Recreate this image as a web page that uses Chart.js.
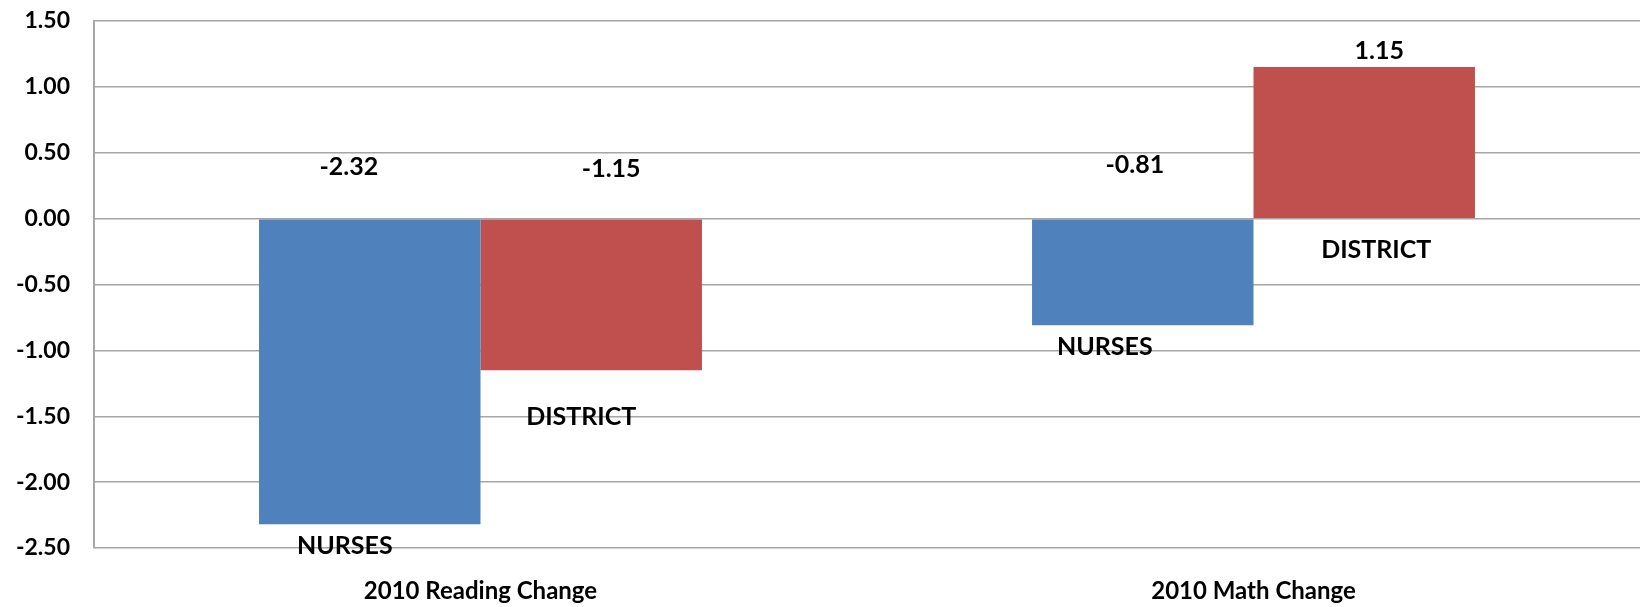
<!DOCTYPE html>
<html>
<head>
    <title>2010 Change</title>
    <script src="https://cdn.jsdelivr.net/npm/chart.js"></script>
    <style>
        html, body {
            margin: 0;
            padding: 0;
            background-color: #ffffff;
        }
        #wrap {
            position: relative;
            width: 1640px;
            height: 607px;
        }
    </style>
</head>
<body>
    <div id="wrap">
        <canvas id="myChart"></canvas>
    </div>
    <script>
        // chart data
        var categories = ['2010 Reading Change', '2010 Math Change'];
        var seriesNames = ['NURSES', 'DISTRICT'];
        var nursesValues = [-2.32, -0.81];
        var districtValues = [-1.15, 1.15];
        var yTicks = { min: -2.5, max: 1.5, step: 0.5 };

        // hand placed label nudges (px), [dataset][category] -> [valueDx, valueDy, nameDx, nameDy]
        var labelNudge = [
            [[-21, 0, -25, 0], [-8, -2, -38, 0]],
            [[20, 2, -10, 25], [15, 0, 12, 0]]
        ];

        var labelFont = 'bold 25px Lato';

        var barLabels = {
            id: 'barLabels',
            afterDatasetsDraw: function (chart) {
                var ctx = chart.ctx;
                var zeroY = chart.scales.y.getPixelForValue(0);
                ctx.save();
                ctx.font = labelFont;
                ctx.fillStyle = '#000';
                ctx.textAlign = 'center';
                ctx.textBaseline = 'middle';
                chart.data.datasets.forEach(function (ds, i) {
                    var meta = chart.getDatasetMeta(i);
                    meta.data.forEach(function (bar, j) {
                        var v = ds.data[j];
                        var n = labelNudge[i][j];
                        var vy = v < 0 ? zeroY - 52 : bar.y - 16;
                        var ny = v < 0 ? bar.y + 22 : zeroY + 31;
                        ctx.fillText(v.toFixed(2), bar.x + n[0], vy + n[1]);
                        ctx.fillText(ds.label, bar.x + n[2], ny + n[3]);
                    });
                });
                ctx.restore();
            }
        };

        var ctx = document.getElementById('myChart').getContext('2d');
        var myChart = new Chart(ctx, {
            type: 'bar',
            data: {
                labels: categories,
                datasets: [{
                    label: seriesNames[0],
                    data: nursesValues,
                    backgroundColor: '#4F81BD'
                }, {
                    label: seriesNames[1],
                    data: districtValues,
                    backgroundColor: '#C0504D'
                }]
            },
            options: {
                responsive: true,
                maintainAspectRatio: false,
                animation: false,
                categoryPercentage: 0.573,
                barPercentage: 1.0,
                layout: {
                    padding: { top: 21, right: 0, bottom: 0, left: 0 }
                },
                plugins: {
                    legend: { display: false },
                    tooltip: { enabled: false }
                },
                scales: {
                    x: {
                        grid: { display: false },
                        border: { display: false },
                        ticks: {
                            color: '#000',
                            padding: 21,
                            font: { family: 'Lato', weight: 'bold', size: 24 }
                        },
                        afterFit: function (scale) { scale.height = 59; }
                    },
                    y: {
                        min: yTicks.min,
                        max: yTicks.max,
                        grid: {
                            color: '#a6a6a6',
                            lineWidth: 1.5,
                            drawTicks: false
                        },
                        border: { color: '#a6a6a6', width: 2 },
                        ticks: {
                            stepSize: yTicks.step,
                            color: '#000',
                            padding: 24,
                            font: { family: 'Lato', weight: 'bold', size: 23 },
                            callback: function (v) { return v.toFixed(2); }
                        },
                        afterFit: function (scale) {
                            scale.width = 94;
                            scale.paddingTop = 0;
                            scale.paddingBottom = 0;
                        }
                    }
                }
            },
            plugins: [barLabels]
        });
    </script>
</body>
</html>
